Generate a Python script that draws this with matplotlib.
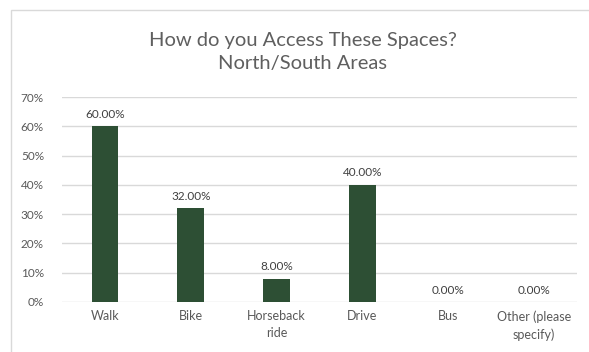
import matplotlib
matplotlib.use("Agg")
from matplotlib import pyplot as plt
from matplotlib.patches import Rectangle
from matplotlib.ticker import FuncFormatter

# data
categories = ["Walk", "Bike", "Horseback\nride", "Drive", "Bus", "Other (please\nspecify)"]
values = [60.0, 32.0, 8.0, 40.0, 0.0, 0.0]
yticks = [0, 10, 20, 30, 40, 50, 60, 70]

plt.rcParams["font.family"] = ["Lato", "DejaVu Sans"]
textGray = "#595959"

fig = plt.figure(figsize=(5.89, 3.52), dpi=100)
fig.patch.set_facecolor("white")

# chart frame (cut off at right/bottom like the screenshot)
fig.patches.append(Rectangle((11 / 589, -0.1), 1.2, 1 - 10 / 352 + 0.1,
                             transform=fig.transFigure, fill=False,
                             edgecolor="#D9D9D9", linewidth=1))

ax = fig.add_axes([62 / 589, 1 - 302 / 352, (577 - 62) / 589, (302 - 97) / 352])
x = range(len(categories))
bars = ax.bar(x, values, width=0.31, color="#2D4F34", zorder=3)

for b, v in zip(bars, values):
    ax.text(b.get_x() + b.get_width() / 2, v + 2.2, "%.2f%%" % v,
            ha="center", va="bottom", fontsize=8.5, color="#404040")

ax.set_ylim(0, 70)
ax.set_xlim(-0.5, len(categories) - 0.5)
ax.set_yticks(yticks)
ax.yaxis.set_major_formatter(FuncFormatter(lambda v, p: "%d%%" % v))
ax.set_xticks(list(x))
ax.set_xticklabels(categories, fontsize=9, color=textGray, linespacing=1.5)
ax.tick_params(axis="y", labelsize=8.5, colors=textGray, length=0, pad=13)
ax.tick_params(axis="x", length=0, pad=6)
ax.grid(axis="y", color="#D9D9D9", linewidth=1, zorder=0)
for s in ax.spines.values():
    s.set_visible(False)

fig.text(303 / 589, 1 - 52 / 352, "How do you Access These Spaces?\nNorth/South Areas",
         ha="center", va="center", fontsize=14.5, color="#5f5f5f",
         linespacing=1.45)

plt.savefig("out.png", dpi=100)
